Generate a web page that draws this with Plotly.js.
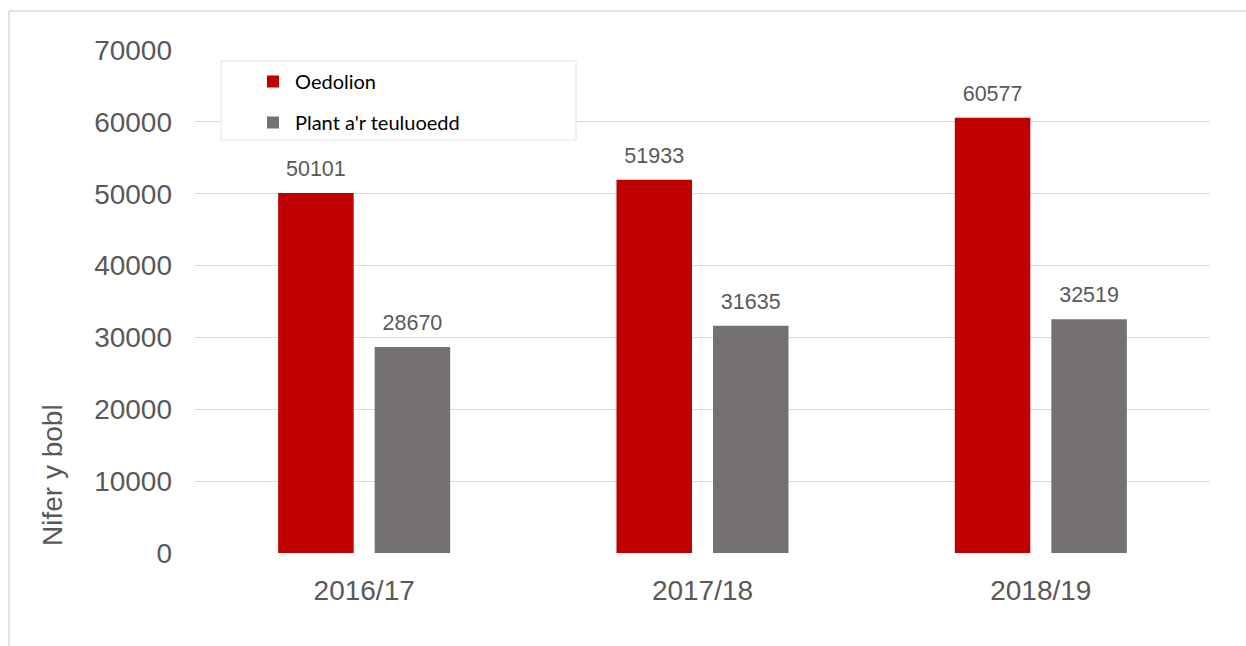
<!DOCTYPE html>
<html>
<head>
<meta charset="utf-8">
<script src="https://cdn.plot.ly/plotly-3.0.1.min.js"></script>
<style>
  html, body { margin: 0; padding: 0; background: #ffffff; }
  #chart { width: 1246px; height: 646px; }
</style>
</head>
<body>
<div id="chart"></div>
<script>
// ---- data ----
const categories = ['2016/17', '2017/18', '2018/19'];
const seriesNames = ['Oedolion', "Plant a'r teuluoedd"];
const adults = [50101, 51933, 60577];
const children = [28670, 31635, 32519];
const yTickValues = [0, 10000, 20000, 30000, 40000, 50000, 60000, 70000];
const yAxisTitle = 'Nifer y bobl';

// ---- style ----
const RED = '#C00000';
const GREY = '#767171';
const TXT = '#595959';
const GRID = '#d9d9d9';
const W = 1246, H = 646;
const M = { l: 195, r: 36, t: 50, b: 93 };
const plotW = W - M.l - M.r, plotH = H - M.t - M.b;
const px = x => (x - M.l) / plotW;          // pixel -> paper x
const py = y => 1 - (y - M.t) / plotH;      // pixel -> paper y
const GAP = 0.4295, GROUPGAP = 0.2176;

const bars = [
  { name: seriesNames[0], y: adults, color: RED, group: 'a' },
  { name: seriesNames[1], y: children, color: GREY, group: 'b' }
];

const traces = [];
bars.forEach(s => {
  traces.push({
    type: 'bar', x: categories, y: s.y, name: s.name,
    marker: { color: s.color }, offsetgroup: s.group, legendgroup: s.group,
    hoverinfo: 'x+y+name'
  });
});
bars.forEach(s => {
  traces.push({
    type: 'scatter', mode: 'markers+text', x: categories, y: s.y,
    text: s.y.map(String), textposition: 'top center',
    textfont: { family: 'Liberation Sans, Arial, sans-serif', size: 21.5, color: TXT },
    marker: { size: 17, opacity: 0, color: s.color },
    offsetgroup: s.group, legendgroup: s.group, showlegend: false,
    hoverinfo: 'skip', cliponaxis: false
  });
});

const layout = {
  width: W, height: H,
  margin: M,
  paper_bgcolor: '#ffffff', plot_bgcolor: '#ffffff',
  barmode: 'group', bargap: GAP, bargroupgap: GROUPGAP,
  scattermode: 'group', scattergap: GAP,
  font: { family: 'Liberation Sans, Arial, sans-serif', color: TXT },
  xaxis: {
    type: 'category', showgrid: false, zeroline: false, showline: false,
    ticks: '', tickfont: { size: 28, color: TXT }, ticklabelstandoff: 18,
    fixedrange: true
  },
  yaxis: {
    range: [0, 70000], tickvals: yTickValues, ticktext: yTickValues.map(String),
    showgrid: true, gridcolor: GRID, gridwidth: 1, zeroline: false, showline: false,
    ticks: '', tickfont: { size: 28, color: TXT }, ticklabelstandoff: 22,
    fixedrange: true
  },
  showlegend: true,
  legend: {
    x: px(251), y: py(62), xanchor: 'left', yanchor: 'top',
    bgcolor: 'rgba(0,0,0,0)', borderwidth: 0, itemwidth: 34,
    font: { family: 'Lato, Carlito, Calibri, sans-serif', size: 20, color: '#000000' },
    traceorder: 'grouped', tracegroupgap: 12
  },
  shapes: [
    // legend box
    { type: 'rect', xref: 'paper', yref: 'paper', x0: px(221), x1: px(576), y0: py(140), y1: py(61),
      fillcolor: '#ffffff', line: { color: '#e2e2e2', width: 1 }, layer: 'above' },
    // outer frame (left + top)
    { type: 'line', xref: 'paper', yref: 'paper', x0: px(9), x1: px(9), y0: py(11), y1: py(H + 2),
      line: { color: GRID, width: 1.5 } },
    { type: 'line', xref: 'paper', yref: 'paper', x0: px(9), x1: px(W + 2), y0: py(11), y1: py(11),
      line: { color: GRID, width: 1.5 } }
  ],
  annotations: [
    { text: yAxisTitle, textangle: -90, xref: 'paper', yref: 'paper',
      x: px(52), y: py(475), xanchor: 'center', yanchor: 'middle', showarrow: false,
      font: { family: 'Liberation Sans, Arial, sans-serif', size: 28, color: TXT } }
  ]
};

Plotly.newPlot('chart', traces, layout, { displayModeBar: false, staticPlot: true });
</script>
</body>
</html>
